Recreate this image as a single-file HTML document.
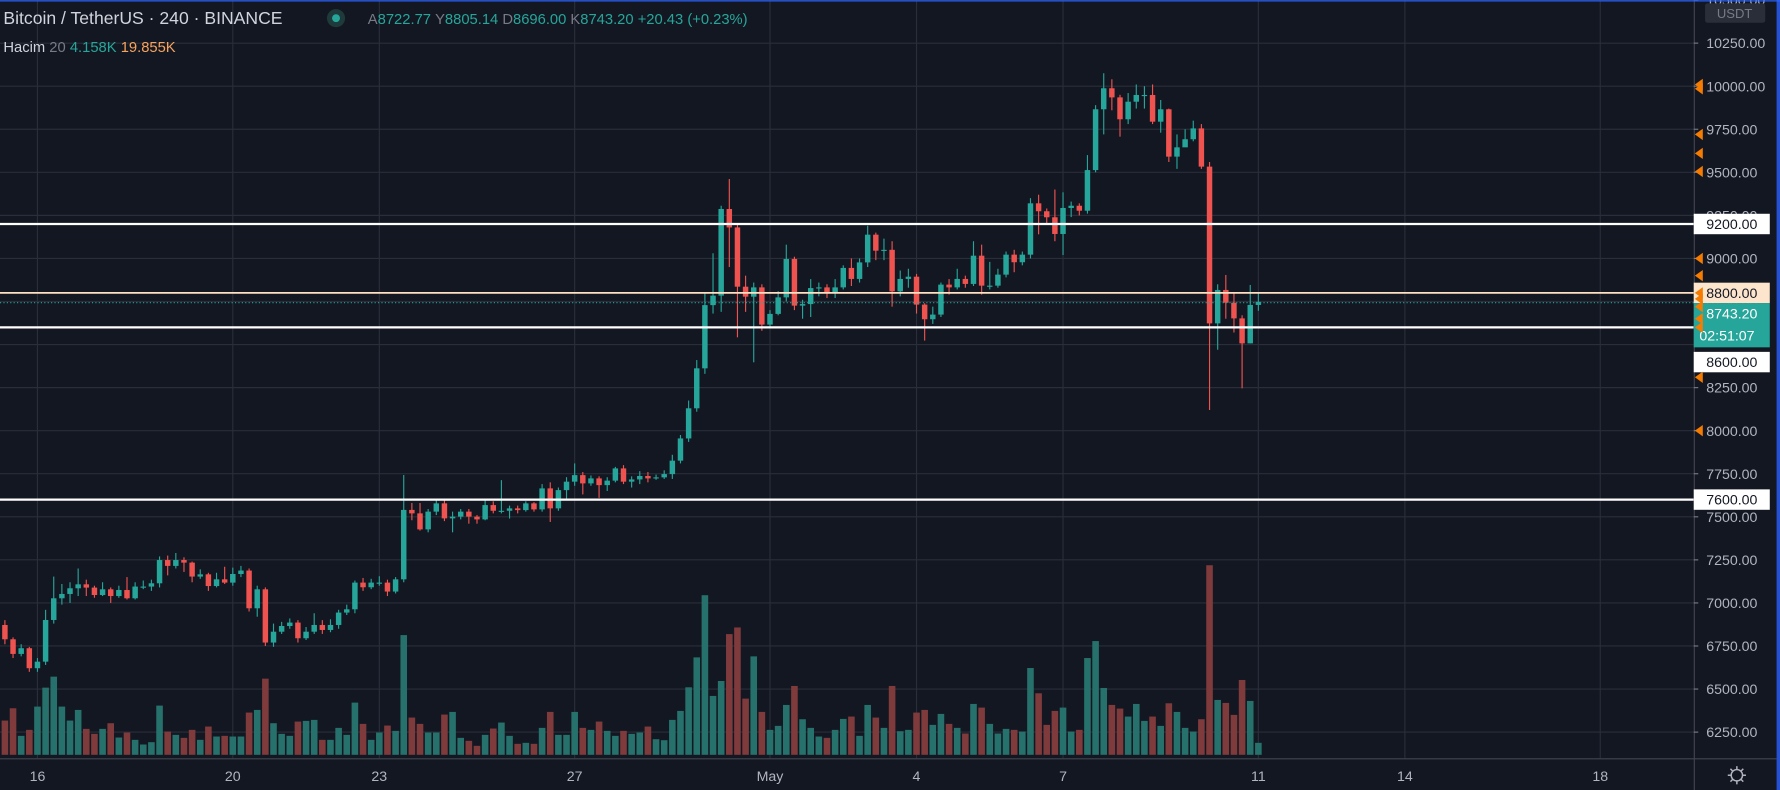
<!DOCTYPE html>
<html><head><meta charset="utf-8"><title>BTCUSDT 240 chart</title>
<style>
html,body{margin:0;padding:0;background:#131722;overflow:hidden}
svg{display:block}
text{font-family:"Liberation Sans","DejaVu Sans",sans-serif}
</style></head>
<body>
<svg id="chart" width="1780" height="790" viewBox="0 0 1568 696" preserveAspectRatio="none" xmlns="http://www.w3.org/2000/svg">
<rect x="0" y="0" width="1568" height="696" fill="#131722"/>
<g id="grid"></g>
<g id="vol"></g>
<g id="candles"></g>
<g id="hlines"></g>
<g id="axis"></g>
<g id="taxis"></g>
<g>
<text x="3" y="21" font-size="15.5" fill="#d1d4dc">Bitcoin / TetherUS · 240 · BINANCE</text>
<circle cx="296" cy="16" r="8" fill="#1e3a3a"/>
<circle cx="296" cy="16" r="3.5" fill="#26a69a"/>
<text x="324" y="21" font-size="13" fill="#26a69a"><tspan fill="#787b86">A</tspan>8722.77 <tspan fill="#787b86">Y</tspan>8805.14 <tspan fill="#787b86">D</tspan>8696.00 <tspan fill="#787b86">K</tspan>8743.20 +20.43 (+0.23%)</text>
<text x="3" y="46" font-size="13" fill="#d1d4dc">Hacim <tspan fill="#787b86">20</tspan>  <tspan fill="#26a69a">4.158K</tspan> <tspan fill="#f7a35c">19.855K</tspan></text>
</g>
<rect x="0" y="0" width="1568" height="1.5" fill="#2962ff" opacity="0.7"/>
<rect x="1565" y="0" width="3" height="696" fill="#2962ff" opacity="0.8"/>
</svg>
<script>
// ---- data (4h candles, index 0 = Apr 16 00:00, starts at index -4) ----
const firstOpen = 6872;
const closes = [6789,6704,6737,6621,
6659,6901,7027,7052,7085,7108, 7089,7046,7079,7040,7075,7027, 7095,7095,7114,7249,7215,7249,
7234,7153,7166,7098,7137,7118, 7168,7188,6969,7079,6770,6833, 6866,6886,6795,6833,6872,6843,
6872,6944,6963,7118,7091,7118, 7118,7066,7137,7540,7520,7427, 7530,7578,7491,7501,7530,7501,
7485,7568,7535,7535,7549,7539, 7578,7543,7665,7549,7655,7704, 7742,7694,7723,7684,7710,7781,
7704,7717,7737,7723,7729,7748, 7826,7955,8130,8362,8729,8784, 9287,9180,8836,8778,8832,8616,
8678,8774,8997,8726,8735,8828, 8832,8797,8832,8945,8881,8977, 9138,9045,9050,8809,8881,8894,
8732,8647,8674,8848,8832,8881, 8852,9016,8842,8842,8906,9022, 8978,9022,9320,9274,9239,9142,
9293,9306,9277,9513,9866,9988, 9935,9808,9910,9949,9949,9794, 9866,9591,9645,9692,9755,9533,
8623,8817,8743,8652,8507,8730, 8748];
const highs = [6900,6800,6760,6745,
6680,6960,7153,7110,7120,7200, 7135,7100,7120,7090,7100,7150, 7120,7130,7135,7270,7275,7290,
7265,7240,7195,7175,7175,7210, 7205,7215,7200,7100,7090,6880, 6890,6910,6900,6860,6940,6900,
6905,6960,6990,7130,7145,7140, 7155,7135,7150,7743,7580,7580, 7545,7600,7600,7530,7545,7545,
7510,7600,7590,7713,7565,7565, 7590,7585,7690,7700,7670,7730, 7810,7760,7740,7735,7730,7790,
7800,7735,7765,7760,7745,7770, 7860,7975,8175,8410,8800,9030, 9306,9461,9200,8900,8860,8850,
8700,8810,9080,9010,8760,8880, 8860,8850,8880,8960,9000,9000, 9190,9150,9115,9100,8930,8940,
8910,8740,8720,8860,8880,8940, 8900,9100,9080,8980,8940,9040, 9050,9040,9350,9370,9290,9400,
9384,9330,9320,9600,9890,10075, 10040,9950,9960,10010,10000,10010, 9920,9870,9720,9750,9800,9780,
9560,8850,8904,8800,8670,8846, 8805];
const lows = [6760,6680,6690,6600,
6600,6640,6880,6990,7000,7040, 7040,7030,7040,7000,7030,7020, 7020,7080,7070,7090,7160,7200,
7180,7120,7140,7070,7090,7110, 7100,7150,6950,6920,6750,6745, 6820,6850,6770,6785,6820,6820,
6830,6850,6930,6940,7070,7080, 7100,7040,7055,7120,7480,7420, 7410,7510,7475,7410,7485,7460,
7460,7480,7520,7520,7490,7520, 7530,7530,7530,7470,7535,7600, 7680,7630,7680,7610,7650,7700,
7690,7670,7690,7700,7715,7720, 7720,7810,7935,8110,8330,8680, 8690,8950,8542,8690,8397,8580,
8600,8670,8750,8700,8650,8660, 8780,8770,8770,8820,8840,8860, 8950,8990,8990,8720,8780,8830,
8680,8523,8620,8660,8790,8820, 8830,8840,8790,8820,8830,8890, 8920,8960,9000,9140,9200,9100,
9020,9240,9250,9260,9500,9720, 9860,9707,9780,9870,9870,9780, 9730,9560,9520,9650,9680,9520,
8120,8470,8650,8570,8246,8507, 8696];
const volumes = [103,140,57,75,
145,202,235,145,103,135, 78,63,78,95,52,67, 45,31,38,148,70,60,
51,75,45,85,55,57, 55,55,127,135,229,95, 63,57,100,102,105,45,
45,81,60,157,93,45, 67,88,72,360,112,93, 67,67,121,129,51,42,
27,60,79,97,57,33, 36,33,81,129,60,60, 129,81,75,100,72,57,
72,63,67,85,47,44, 105,132,203,293,480,177, 222,363,383,169,296,129,
75,87,150,207,107,81, 55,51,75,108,115,57, 150,112,81,207,71,75,
127,135,90,123,93,81, 64,153,142,93,64,78, 75,70,261,185,90,132,
142,70,75,291,342,201, 150,139,115,153,102,115, 87,155,129,81,70,107,
570,165,156,120,225,162, 36];
const priceTicks = [10250,10000,9750,9500,9250,9000,8750,8250,8000,7750,7500,7250,7000,6750,6500,6250];
const dayLabels = ["16","20","23","27","May","4","7","11","14","18"];
const dayIndex = [0,24,42,66,90,108,126,150,168,192];
const levelLines = [9200,8600,7600];
const alertLevel = 8800;
const lastPrice = 8743.20;
const alertPrices = [10010,9985,9720,9610,9505,9000,8900,8800,8765,8720,8650,8600,8310,8000];

// ---- axes ----
const FIRST = -4;
const PLOT_R = 1492;
function xOf(i){ return 33 + i*7.17; }
function yOf(p){ return 38 + (10250-p)*0.15175; }
const VOL_BASE = 665, VOL_SCALE = 0.293;
function vh(v){ return v*VOL_SCALE; }

const NS = "http://www.w3.org/2000/svg";
function mk(tag, attrs, parent){
  const e = document.createElementNS(NS, tag);
  for (const k in attrs) e.setAttribute(k, attrs[k]);
  parent.appendChild(e);
  return e;
}
const grid = document.getElementById('grid');
const vol = document.getElementById('vol');
const cg = document.getElementById('candles');
const hl = document.getElementById('hlines');
const ax = document.getElementById('axis');
const tx = document.getElementById('taxis');

// grid
priceTicks.concat([10500,8500]).forEach(p=>{
  const l = mk('line',{x1:0,x2:PLOT_R,y1:yOf(p),y2:yOf(p),stroke:'#2a2e39','stroke-width':1},grid);
  
  
});
dayIndex.forEach(d=>{
  const l = mk('line',{x1:xOf(d),x2:xOf(d),y1:0,y2:668,stroke:'#2a2e39','stroke-width':1},grid);
  
  
});

// candles + volume
let prev = firstOpen;
closes.forEach((c,k)=>{
  const i = k + FIRST;
  const o = prev; prev = c;
  const up = c >= o;
  const col = up ? '#26a69a' : '#ef5350';
  const x = xOf(i);
  const vb = mk('rect',{x:x-2.9,y:VOL_BASE-vh(volumes[k]),width:5.8,height:vh(volumes[k]),fill: up ? '#26716b' : '#7f3a3c'},vol);
  
  
  const w = mk('line',{x1:x,x2:x,y1:yOf(highs[k]),y2:yOf(lows[k]),stroke:col,'stroke-width':1},cg);
  
  
  const top = yOf(Math.max(o,c)), bot = yOf(Math.min(o,c));
  const b = mk('rect',{x:x-2.4,y:top,width:4.8,height:Math.max(1,bot-top),fill:col},cg);
  
  
});

// axis background + border
const axbg = mk('rect',{x:PLOT_R,y:0,width:1568-PLOT_R,height:696,fill:'#131722'},ax);


const axl = mk('line',{x1:PLOT_R+0.5,x2:PLOT_R+0.5,y1:0,y2:696,stroke:'#434651','stroke-width':1},ax);


priceTicks.concat([10500]).forEach(p=>{
  const t = mk('text',{x:1503,y:yOf(p)+4.5,'font-size':12.5,fill:'#b2b5be'},ax);
  t.textContent = p.toFixed(2);
  
  
  const tk = mk('line',{x1:PLOT_R,x2:PLOT_R+4,y1:yOf(p),y2:yOf(p),stroke:'#787b86'},ax);
  
  
});
const ub = mk('rect',{x:1502,y:3,width:53,height:17,rx:2,fill:'#2a2e39'},ax);


const ut = mk('text',{x:1528,y:16,'font-size':11.5,fill:'#787b86','text-anchor':'middle'},ax);
ut.textContent = 'USDT';



// level lines
levelLines.forEach(p=>{
  const l = mk('line',{x1:0,x2:PLOT_R,y1:yOf(p),y2:yOf(p),stroke:'#ffffff','stroke-width':2},hl);
  
  
});
const al = mk('line',{x1:0,x2:PLOT_R,y1:yOf(alertLevel),y2:yOf(alertLevel),stroke:'#ffe0c2','stroke-width':1.6},hl);


const pl = mk('line',{x1:0,x2:PLOT_R,y1:yOf(lastPrice),y2:yOf(lastPrice),stroke:'#26a69a','stroke-width':1,'stroke-dasharray':'1 2'},hl);



// badges (stacked to avoid overlap, as the terminal does)
const badgeY8600 = 310, badgeYLast = 267;
levelLines.forEach(p=>{
  const top = (p === 8600) ? badgeY8600 : yOf(p)-9;
  const r = mk('rect',{x:PLOT_R,y:top,width:67,height:18,fill:'#ffffff'},ax);
  
  
  const t = mk('text',{x:1503,y:top+13.5,'font-size':12.5,fill:'#131722'},ax);
  t.textContent = p.toFixed(2);
  
  
});
{
  const r = mk('rect',{x:PLOT_R,y:yOf(alertLevel)-9,width:67,height:18,fill:'#fde5cd'},ax);
  
  
  const t = mk('text',{x:1503,y:yOf(alertLevel)+4.5,'font-size':12.5,fill:'#131722'},ax);
  t.textContent = alertLevel.toFixed(2);
  
  
  const r2 = mk('rect',{x:PLOT_R,y:badgeYLast,width:67,height:39,fill:'#26a69a'},ax);
  
  
  const t2 = mk('text',{x:1503,y:badgeYLast+13.5,'font-size':12.5,fill:'#ffffff'},ax);
  t2.textContent = lastPrice.toFixed(2);
  
  
  const t3 = mk('text',{x:1497,y:badgeYLast+33,'font-size':12.5,fill:'#ffffff'},ax);
  t3.textContent = '02:51:07';
  
  
}
alertPrices.forEach(p=>{
  const y = yOf(p);
  const tri = mk('polygon',{points:`${PLOT_R+1},${y} ${PLOT_R+8},${y-5} ${PLOT_R+8},${y+5}`,fill:'#f57c00'},ax);
  
  
});

// time axis
const tl = mk('line',{x1:0,x2:1565,y1:668.5,y2:668.5,stroke:'#434651'},tx);


dayLabels.forEach((lab,j)=>{
  const t = mk('text',{x:xOf(dayIndex[j]),y:688,'font-size':12.5,fill:'#b2b5be','text-anchor':'middle'},tx);
  t.textContent = lab;
  
  
});
const gear = mk('g',{},tx);


mk('circle',{cx:1530,cy:683,r:5,fill:'none',stroke:'#b2b5be','stroke-width':1.3},gear);
for(let a=0;a<8;a++){
  const r = a*Math.PI/4;
  mk('line',{x1:1530+Math.cos(r)*5,y1:683+Math.sin(r)*5,x2:1530+Math.cos(r)*8,y2:683+Math.sin(r)*8,stroke:'#b2b5be','stroke-width':1.3},gear);
}
</script>
</body></html>
